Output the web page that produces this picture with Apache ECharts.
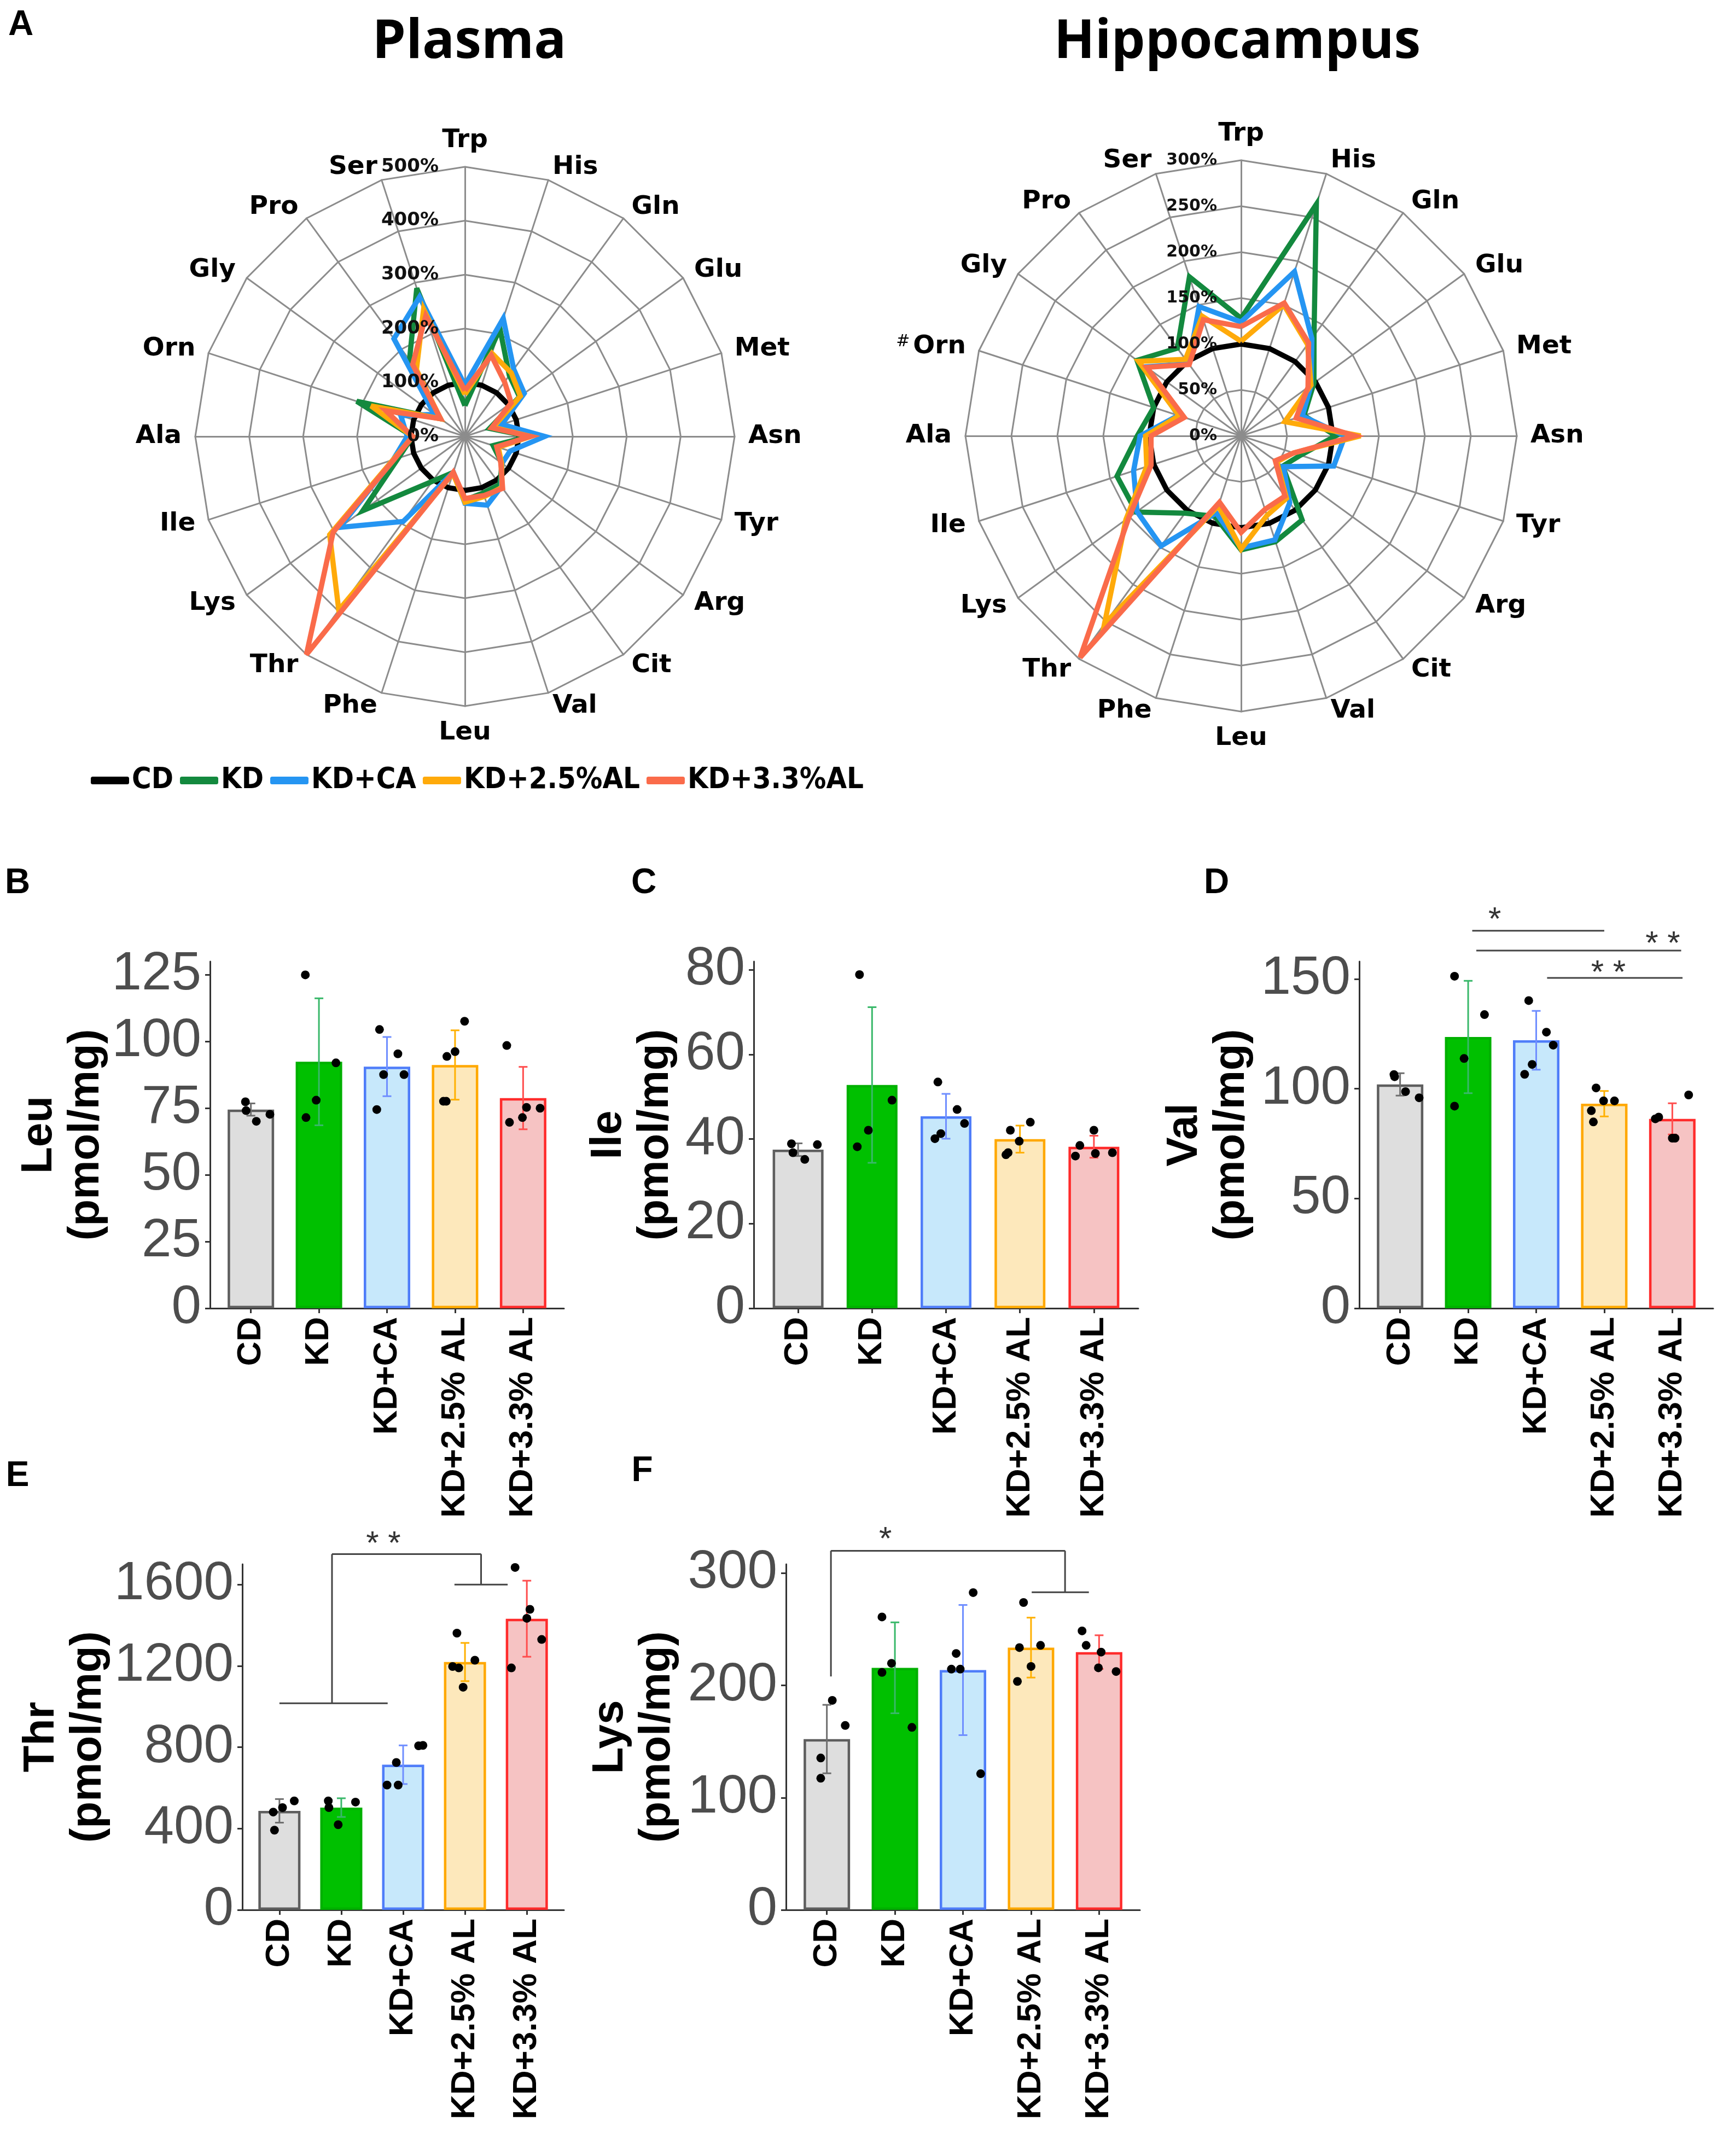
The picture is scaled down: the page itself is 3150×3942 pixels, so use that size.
<!DOCTYPE html>
<html>
<head>
<meta charset="utf-8">
<title>Amino acid profiles</title>
<script src="https://cdn.jsdelivr.net/npm/echarts@6.0.0/dist/echarts.min.js"></script>
<style>
html,body{margin:0;padding:0;background:#ffffff;}
#chart{width:3150px;height:3942px;}
</style>
</head>
<body>
<div id="chart"></div>
<script>
// ---------------- Panel A: radar data (percent of CD), clockwise from Trp ----------------
const aminoAcids = ['Trp','His','Gln','Glu','Met','Asn','Tyr','Arg','Cit','Val','Leu','Phe','Thr','Lys','Ile','Ala','Orn','Gly','Pro','Ser'];
const legendGroups = ['CD','KD','KD+CA','KD+2.5%AL','KD+3.3%AL'];

const plasmaCD   = [100,100,100,100,100,100,100,100,100,100,100,100,100,100,100,100,100,100,100,100];
const plasmaKD   = [57,210,140,125,48,119,55,85,110,110,118,70,103,234,130,97,211,56,175,289];
const plasmaCA   = [95,230,154,136,72,148,88,85,115,134,124,70,195,287,140,107,125,70,224,272];
const plasmaAL25 = [78,162,146,127,55,122,65,84,117,117,122,72,398,310,140,97,183,56,153,248];
const plasmaAL33 = [85,158,125,106,52,121,62,82,119,115,115,70,500,302,138,97,154,56,165,235];
const plasmaMax = 500, plasmaSplits = 5;

const hippoCD   = [100,100,100,100,100,100,100,100,100,100,100,100,100,100,100,100,100,100,100,100];
const hippoKD   = [128,265,135,98,72,103,68,56,113,121,124,92,104,141,142,113,100,140,118,182];
const hippoCA   = [124,188,131,94,70,113,106,57,90,119,122,88,148,140,123,110,72,128,97,148];
const hippoAL25 = [103,150,123,94,50,130,60,48,84,91,123,80,253,155,108,104,71,138,103,137];
const hippoAL33 = [119,152,125,90,63,124,60,46,81,84,105,76,298,151,103,98,65,127,96,133];
const hippoMax = 300, hippoSplits = 6;

// ---------------- Panels B-F: hippocampus concentrations (pmol/mg) ----------------
const dietGroups = ['CD','KD','KD+CA','KD+2.5% AL','KD+3.3% AL'];

const leuMean = [74.5, 92.4, 90.6, 91.2, 78.8];
const leuSD   = [2.3, 23.8, 11.1, 13.0, 11.7];
const leuPoints = [[77.4,74.1,70.1,72.7],[125.0,92.0,78.0,71.5],[104.5,95.4,87.6,87.6,74.5],[107.6,96.2,94.4,77.6,77.6],[98.5,75.3,75.0,71.5,69.7]];
const leuJitter = [[-0.08,-0.07,0.08,0.28],[-0.2,0.25,-0.04,-0.19],[-0.11,0.16,-0.05,0.25,-0.15],[0.14,0.0,-0.12,-0.17,-0.13],[-0.24,0.05,0.25,-0.01,-0.2]];
const leuTicks = [0,25,50,75,100,125];

const ileMean = [37.5, 52.8, 45.4, 40.0, 38.2];
const ileSD   = [1.5, 18.4, 5.3, 3.2, 2.6];
const ilePoints = [[38.9,36.8,35.2,38.7],[78.9,49.2,42.1,38.2],[53.5,47.0,43.7,41.3,40.1],[44.0,42.1,39.5,36.8,36.3],[42.1,38.5,36.0,36.6,36.8]];
const ileJitter = [[-0.09,-0.07,0.09,0.26],[-0.17,0.27,-0.05,-0.2],[-0.11,0.15,0.25,-0.07,-0.15],[0.14,-0.13,-0.01,-0.16,-0.19],[0.0,-0.19,-0.25,0.02,0.25]];
const ileTicks = [0,20,40,60,80];

const valMean = [102.0, 123.6, 122.1, 93.2, 86.3];
const valSD   = [5.1, 25.6, 13.4, 5.8, 7.1];
const valPoints = [[106.5,105.5,98.7,95.9],[151.3,133.8,113.8,92.1],[140.2,125.8,119.9,111.1,106.6],[100.4,94.5,94.5,90.0,84.9],[97.2,86.3,87.1,77.5,77.5]];
const valJitter = [[-0.09,-0.08,0.08,0.28],[-0.2,0.24,-0.06,-0.2],[-0.11,0.15,0.25,-0.06,-0.17],[-0.12,-0.01,0.15,-0.19,-0.16],[0.24,-0.25,-0.2,0.0,0.04]];
const valTicks = [0,50,100,150];

const thrMean = [487, 503, 714, 1219, 1432];
const thrSD   = [58, 46, 95, 94, 187];
const thrPoints = [[481,503,536,392],[536,503,530,419],[725,614,614,807,809],[1361,1197,1190,1228,1095],[1684,1478,1434,1330,1190]];
const thrJitter = [[-0.1,0.05,0.24,-0.08],[-0.21,-0.2,0.23,-0.05],[-0.11,-0.26,-0.08,0.25,0.32],[-0.13,-0.2,-0.1,0.16,-0.03],[-0.19,0.05,0.0,0.24,-0.25]];
const thrTicks = [0,400,800,1200,1600];

const lysMean = [152.2, 215.7, 213.7, 233.7, 229.7];
const lysSD   = [30.5, 40.5, 58.0, 26.7, 15.0];
const lysPoints = [[186.7,164.3,135.3,117.3],[261.0,219.7,211.6,162.6],[282.7,228.5,214.5,214.5,121.3],[273.9,233.7,235.7,216.9,203.6],[248.6,235.7,229.7,215.7,212.4]];
const lysJitter = [[0.08,0.27,-0.09,-0.09],[-0.19,-0.05,-0.19,0.25],[0.15,-0.1,-0.17,-0.04,0.26],[-0.11,-0.17,0.14,0.0,-0.2],[-0.25,-0.19,0.03,-0.01,0.25]];
const lysTicks = [0,100,200,300];

// significance brackets: segments [x1, y1, x2, y2] in (group index, value) units, labels [x, y, text]
const valSigLines = [[1.06,172,3.0,172],[1.12,163,4.13,163],[2.16,150.5,4.15,150.5]];
const valSigLabels = [[1.39,180,'*'],[3.86,169,'* *'],[3.06,156,'* *']];
const thrSigLines = [[0,1016,1.75,1016],[0.85,1016,0.85,1750],[0.85,1750,3.26,1750],[3.26,1750,3.26,1600],[2.83,1600,3.69,1600]];
const thrSigLabels = [[1.68,1832,'* *']];
const lysSigLines = [[0.06,208,0.06,320],[0.06,320,3.5,320],[3.5,320,3.5,283],[3.01,283,3.85,283]];
const lysSigLabels = [[0.86,336,'*']];

// ---------------- styles ----------------
const radarColors = ['#000000','#13893E','#2595F2','#FFAA0A','#FA6B4A'];
const barFill   = ['#DEDEDE','#00C000','#C7E8FB','#FDE8BB','#F6C3C3'];
const barBorder = ['#5E5E5E','#00B000','#4F7DF9','#FFA800','#FF2B2B'];
const errColor  = ['#6E6E6E','#39B86A','#6F8EFF','#FFB000','#FF4D4D'];
const SANS = 'Liberation Sans';
const VERD = 'DejaVu Sans';

function ccw(arr){ return arr.map((_, k) => arr[(arr.length - k) % arr.length]); }

function radarCfg(center, radius, max, splits, labelSize, labelMargin, nameFn, labelsOnly){
  const names = ccw(aminoAcids);
  return {
    center: center, radius: radius, startAngle: 90, shape: 'polygon', splitNumber: splits,
    z: labelsOnly ? 10 : 1,
    indicator: names.map((n, k) => Object.assign({name: nameFn(n), min: 0, max: max}, (labelsOnly && k === 0) ? {axisLabel: {show: true}} : {})),
    nameGap: 25,
    axisName: {show: !labelsOnly, color: '#000', fontSize: 47, fontWeight: 'bold', fontFamily: VERD,
      rich: {h: {fontSize: 30, fontWeight: 'normal', color: '#000', fontFamily: VERD, verticalAlign: 'top', padding: [0, 6, 14, 0]}}},
    splitLine: {show: !labelsOnly, lineStyle: {color: '#8C8C8C', width: 3}},
    splitArea: {show: false},
    axisLine: {show: !labelsOnly, lineStyle: {color: '#8C8C8C', width: 3}},
    axisTick: {show: false},
    axisLabel: {show: false, formatter: '{value}%', fontSize: labelSize, fontWeight: 'bold', color: '#111', fontFamily: VERD, margin: labelMargin}
  };
}

function radarSeries(idx, sets){
  return {
    type: 'radar', radarIndex: idx, symbol: 'none', silent: true, z: 3,
    data: sets.map((vals, i) => ({
      name: legendGroups[i], value: ccw(vals),
      lineStyle: {color: radarColors[i], width: 9.5, join: 'miter', miterLimit: 4},
      itemStyle: {color: radarColors[i]}
    }))
  };
}

const panels = [
  {name: 'Leu', grid: [384, 1758, 647, 634], yMax: 130, ticks: leuTicks, mean: leuMean, sd: leuSD, pts: leuPoints, jit: leuJitter, barW: 85, nameGap: 178},
  {name: 'Ile', grid: [1378, 1758, 703, 634], yMax: 82, ticks: ileTicks, mean: ileMean, sd: ileSD, pts: ilePoints, jit: ileJitter, barW: 93, nameGap: 136},
  {name: 'Val', grid: [2485, 1758, 647, 634], yMax: 158, ticks: valTicks, mean: valMean, sd: valSD, pts: valPoints, jit: valJitter, barW: 85, nameGap: 190, sigL: valSigLines, sigT: valSigLabels},
  {name: 'Thr', grid: [443, 2860, 588, 632], yMax: 1700, ticks: thrTicks, mean: thrMean, sd: thrSD, pts: thrPoints, jit: thrJitter, barW: 77, nameGap: 232, sigL: thrSigLines, sigT: thrSigLabels},
  {name: 'Lys', grid: [1437, 2860, 647, 632], yMax: 308, ticks: lysTicks, mean: lysMean, sd: lysSD, pts: lysPoints, jit: lysJitter, barW: 85, nameGap: 192, sigL: lysSigLines, sigT: lysSigLabels}
];

const grids = [], xAxes = [], yAxes = [], barSeries = [];
const groupIdx = [0,1,2,3,4];
panels.forEach((p, k) => {
  grids.push({left: p.grid[0], top: p.grid[1], width: p.grid[2], height: p.grid[3], containLabel: false, outerBoundsMode: 'none'});
  xAxes.push({
    gridIndex: k, type: 'value', min: -0.6, max: 4.6,
    splitLine: {show: false},
    axisLine: {show: true, onZero: false, lineStyle: {color: '#333', width: 3}},
    axisTick: {show: true, length: 9, lineStyle: {color: '#333', width: 3}, customValues: groupIdx},
    axisLabel: {show: true, customValues: groupIdx, rotate: 90, margin: 16, fontSize: 62, fontWeight: 'bold', color: '#000', fontFamily: SANS,
      formatter: v => dietGroups[Math.round(v)]}
  });
  yAxes.push({
    gridIndex: k, type: 'value', min: 0, max: p.yMax,
    name: p.name + '\n(pmol/mg)', nameLocation: 'middle', nameRotate: 90, nameGap: p.nameGap,
    nameTextStyle: {fontSize: 80, fontWeight: 'bold', color: '#000', fontFamily: SANS, lineHeight: 86},
    splitLine: {show: false},
    axisLine: {show: true, onZero: false, lineStyle: {color: '#333', width: 3}},
    axisTick: {show: true, length: 9, lineStyle: {color: '#333', width: 3}, customValues: p.ticks},
    axisLabel: {show: true, customValues: p.ticks, margin: 16, fontSize: 98, color: '#4D4D4D', fontFamily: SANS,
      formatter: v => String(v)}
  });
  barSeries.push({
    type: 'bar', xAxisIndex: k, yAxisIndex: k, barWidth: p.barW, silent: true, z: 2,
    data: p.mean.map((m, i) => ({value: [i, m], itemStyle: {color: barFill[i], borderColor: barBorder[i], borderWidth: 4.5}}))
  });
  barSeries.push({
    type: 'custom', xAxisIndex: k, yAxisIndex: k, silent: true, z: 3, clip: false,
    data: p.mean.map((m, i) => [i, m, p.sd[i]]),
    renderItem: (params, api) => {
      const x = api.value(0), m = api.value(1), s = api.value(2);
      const a = api.coord([x, m + s]), b = api.coord([x, m - s]);
      const c = errColor[params.dataIndex];
      const st = {stroke: c, lineWidth: 3};
      return {type: 'group', children: [
        {type: 'line', shape: {x1: a[0], y1: a[1], x2: b[0], y2: b[1]}, style: st},
        {type: 'line', shape: {x1: a[0] - 8, y1: a[1], x2: a[0] + 8, y2: a[1]}, style: st},
        {type: 'line', shape: {x1: b[0] - 8, y1: b[1], x2: b[0] + 8, y2: b[1]}, style: st}
      ]};
    }
  });
  const dots = [];
  p.pts.forEach((arr, i) => arr.forEach((v, j) => dots.push([i + p.jit[i][j], v])));
  barSeries.push({
    type: 'scatter', xAxisIndex: k, yAxisIndex: k, silent: true, z: 4,
    symbolSize: 16, itemStyle: {color: '#000', opacity: 1}, data: dots
  });
  if (p.sigL) {
    barSeries.push({
      type: 'custom', xAxisIndex: k, yAxisIndex: k, silent: true, z: 5, clip: false,
      data: p.sigL,
      renderItem: (params, api) => {
        const a = api.coord([api.value(0), api.value(1)]), b = api.coord([api.value(2), api.value(3)]);
        return {type: 'line', shape: {x1: a[0], y1: a[1], x2: b[0], y2: b[1]}, style: {stroke: '#444', lineWidth: 3}};
      }
    });
    const labels = p.sigT;
    barSeries.push({
      type: 'custom', xAxisIndex: k, yAxisIndex: k, silent: true, z: 5, clip: false,
      data: labels.map(t => [t[0], t[1]]),
      renderItem: (params, api) => {
        const a = api.coord([api.value(0), api.value(1)]);
        return {type: 'text', x: a[0], y: a[1] + 14, style: {text: labels[params.dataIndex][2], fill: '#333', fontSize: 60, fontFamily: SANS, align: 'center', verticalAlign: 'middle'}};
      }
    });
  }
});

function letter(t, x, y){
  return {type: 'text', silent: true, style: {text: t, x: x, y: y, fill: '#000', fontSize: 64, fontWeight: 'bold', fontFamily: SANS, align: 'center', verticalAlign: 'middle'}};
}
function heading(t, x, y){
  return {type: 'text', silent: true, style: {text: t, x: x, y: y, fill: '#000', fontSize: 98, fontWeight: 'bold', fontFamily: 'Open Sans', align: 'center', verticalAlign: 'middle'}};
}

const hippoName = n => (n === 'Orn' ? '{h|#}Orn' : n);
const option = {
  animation: false,
  backgroundColor: '#ffffff',
  textStyle: {fontFamily: SANS},
  radar: [
    radarCfg([850, 798], 493, plasmaMax, plasmaSplits, 34, 48, n => n, false),
    radarCfg([2269, 797], 504, hippoMax, hippoSplits, 30, 44, hippoName, false),
    radarCfg([850, 798], 493, plasmaMax, plasmaSplits, 34, 48, n => n, true),
    radarCfg([2269, 797], 504, hippoMax, hippoSplits, 30, 44, hippoName, true)
  ],
  legend: {
    data: legendGroups, left: 161, top: 1391, orient: 'horizontal',
    icon: 'roundRect', itemWidth: 70, itemHeight: 14, itemGap: 12, selectedMode: false,
    textStyle: {fontSize: 54, fontWeight: 'bold', color: '#000', fontFamily: "'DejaVu Sans Condensed', 'Liberation Sans Narrow', 'Liberation Sans'", lineHeight: 62}
  },
  grid: grids,
  xAxis: xAxes,
  yAxis: yAxes,
  graphic: [
    heading('Plasma', 858, 78),
    heading('Hippocampus', 2262, 78),
    letter('A', 38, 46),
    letter('B', 32, 1615),
    letter('C', 1177, 1615),
    letter('D', 2224, 1615),
    letter('E', 32, 2699),
    letter('F', 1174, 2690)
  ],
  series: [
    radarSeries(0, [plasmaCD, plasmaKD, plasmaCA, plasmaAL25, plasmaAL33]),
    radarSeries(1, [hippoCD, hippoKD, hippoCA, hippoAL25, hippoAL33])
  ].concat(barSeries)
};

const chart = echarts.init(document.getElementById('chart'), null, {renderer: 'canvas', width: 3150, height: 3942});
chart.setOption(option);
</script>
</body>
</html>
